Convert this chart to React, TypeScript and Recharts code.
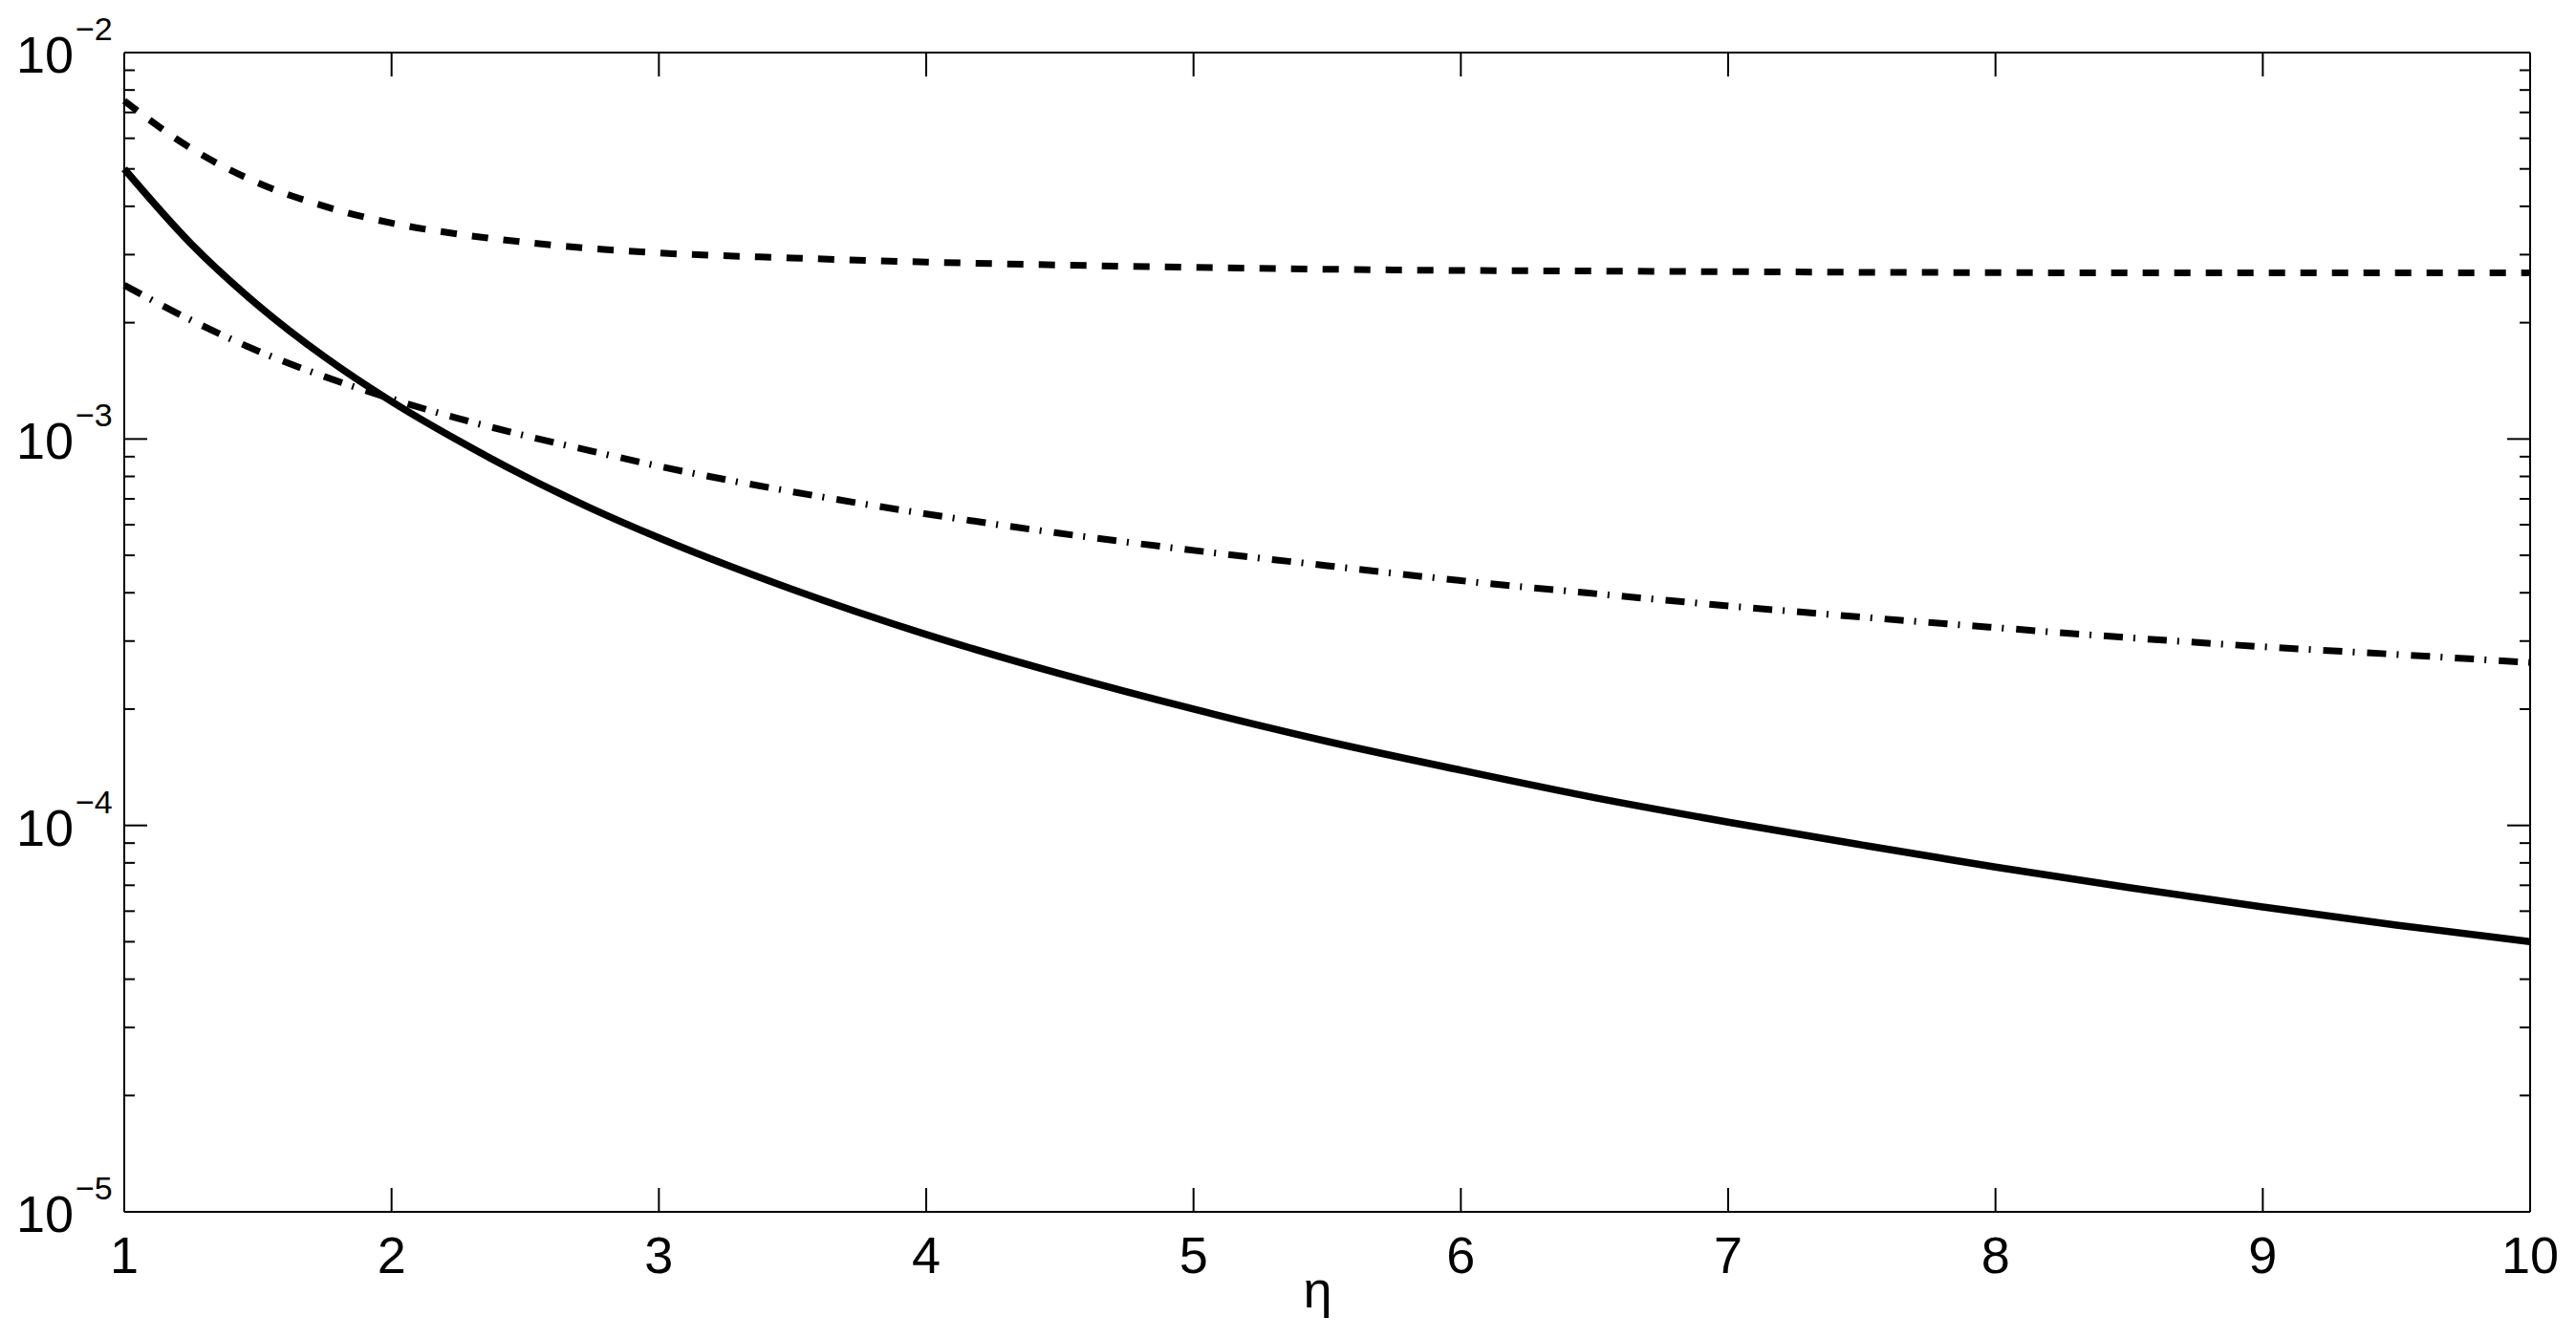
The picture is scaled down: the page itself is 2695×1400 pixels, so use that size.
import React from 'react';
import { LineChart, Line, XAxis, YAxis } from 'recharts';

const etaValues = [1, 1.25, 1.5, 1.75, 2, 2.25, 2.5, 2.75, 3, 3.5, 4, 4.5, 5, 5.5, 6, 6.5, 7, 7.5, 8, 8.5, 9, 9.5, 10];

const solidSeries = [5.0e-3, 3.2e-3, 2.22e-3, 1.63e-3, 1.25e-3, 9.9e-4, 8.0e-4, 6.6e-4, 5.55e-4, 4.08e-4, 3.12e-4, 2.47e-4, 2.0e-4, 1.65e-4, 1.39e-4, 1.18e-4, 1.02e-4, 8.9e-5, 7.8e-5, 6.9e-5, 6.15e-5, 5.52e-5, 5.0e-5];

const dashDotSeries = [2.5e-3, 2.03e-3, 1.69e-3, 1.45e-3, 1.27e-3, 1.13e-3, 1.02e-3, 9.3e-4, 8.5e-4, 7.3e-4, 6.4e-4, 5.7e-4, 5.15e-4, 4.7e-4, 4.3e-4, 3.98e-4, 3.7e-4, 3.46e-4, 3.25e-4, 3.06e-4, 2.9e-4, 2.77e-4, 2.64e-4];

const dashedSeries = [7.5e-3, 5.65e-3, 4.6e-3, 4.0e-3, 3.62e-3, 3.39e-3, 3.23e-3, 3.11e-3, 3.03e-3, 2.94e-3, 2.87e-3, 2.82e-3, 2.78e-3, 2.75e-3, 2.73e-3, 2.72e-3, 2.71e-3, 2.70e-3, 2.695e-3, 2.69e-3, 2.69e-3, 2.69e-3, 2.69e-3];

const xTicks = [1, 2, 3, 4, 5, 6, 7, 8, 9, 10];

const yTicks = [
  1e-5, 2e-5, 3e-5, 4e-5, 5e-5, 6e-5, 7e-5, 8e-5, 9e-5,
  1e-4, 2e-4, 3e-4, 4e-4, 5e-4, 6e-4, 7e-4, 8e-4, 9e-4,
  1e-3, 2e-3, 3e-3, 4e-3, 5e-3, 6e-3, 7e-3, 8e-3, 9e-3,
  1e-2,
];

const xLabel = 'η';

const data = etaValues.map((eta, i) => ({
  eta,
  solid: solidSeries[i],
  dashed: dashedSeries[i],
  dashDot: dashDotSeries[i],
}));

const FONT = 'Liberation Sans, Arial, Helvetica, sans-serif';
const MAJOR = 24;
const MINOR = 11;

const isDecade = (v: number) => {
  const l = Math.log10(v);
  return Math.abs(l - Math.round(l)) < 1e-6;
};

const LeftTick = (props: any) => {
  const { x, y, payload } = props;
  const v = payload.value as number;
  const major = isDecade(v);
  const exp = Math.round(Math.log10(v));
  return (
    <g>
      <line x1={x} x2={x + (major ? MAJOR : MINOR)} y1={y} y2={y} stroke="#000" strokeWidth={2} />
      {major && (
        <g fontFamily={FONT} fill="#000">
          <text x={x - 53} y={y + 21} fontSize={54} textAnchor="end">10</text>
          <text x={x - 51} y={y - 13} fontSize={34} textAnchor="start">{'\u2212' + Math.abs(exp)}</text>
        </g>
      )}
    </g>
  );
};

const RightTick = (props: any) => {
  const { x, y, payload } = props;
  const v = payload.value as number;
  const major = isDecade(v);
  return <line x1={x} x2={x - (major ? MAJOR : MINOR)} y1={y} y2={y} stroke="#000" strokeWidth={2} />;
};

const BottomTick = (props: any) => {
  const { x, y, payload } = props;
  return (
    <g>
      <line x1={x} x2={x} y1={y} y2={y - 25} stroke="#000" strokeWidth={2} />
      <text x={x} y={y + 64} fontSize={54} fontFamily={FONT} textAnchor="middle" fill="#000">
        {payload.value}
      </text>
    </g>
  );
};

const TopTick = (props: any) => {
  const { x, y } = props;
  return <line x1={x} x2={x} y1={y} y2={y + 25} stroke="#000" strokeWidth={2} />;
};

const XLabel = (props: any) => {
  const vb = props.viewBox || {};
  return (
    <text
      x={vb.x + vb.width / 2 - 10}
      y={vb.y + 100}
      fontSize={54}
      fontFamily={FONT}
      textAnchor="middle"
      fill="#000"
    >
      {xLabel}
    </text>
  );
};

export default function App() {
  return (
    <div style={{ width: 2687, height: 1392, background: '#fff' }}>
      <LineChart width={2687} height={1392} data={data} margin={{ top: 0, right: 0, bottom: 0, left: 0 }}>
        <XAxis
          xAxisId="bottom"
          dataKey="eta"
          type="number"
          domain={[1, 10]}
          ticks={xTicks}
          interval={0}
          height={132}
          tickSize={0}
          tickMargin={0}
          tickLine={false}
          axisLine={{ stroke: '#000', strokeWidth: 2 }}
          tick={<BottomTick />}
          label={<XLabel />}
        />
        <XAxis
          xAxisId="top"
          orientation="top"
          dataKey="eta"
          type="number"
          domain={[1, 10]}
          ticks={xTicks}
          interval={0}
          height={47}
          tickSize={0}
          tickMargin={0}
          tickLine={false}
          axisLine={{ stroke: '#000', strokeWidth: 2 }}
          tick={<TopTick />}
        />
        <YAxis
          yAxisId="left"
          scale="log"
          type="number"
          domain={[1e-5, 1e-2]}
          allowDataOverflow
          ticks={yTicks}
          interval={0}
          width={122}
          tickSize={0}
          tickMargin={0}
          tickLine={false}
          axisLine={{ stroke: '#000', strokeWidth: 2 }}
          tick={<LeftTick />}
        />
        <YAxis
          yAxisId="right"
          orientation="right"
          scale="log"
          type="number"
          domain={[1e-5, 1e-2]}
          allowDataOverflow
          ticks={yTicks}
          interval={0}
          width={48}
          tickSize={0}
          tickMargin={0}
          tickLine={false}
          axisLine={{ stroke: '#000', strokeWidth: 2 }}
          tick={<RightTick />}
        />
        <Line
          xAxisId="bottom"
          yAxisId="left"
          dataKey="dashed"
          type="monotone"
          stroke="#000"
          strokeWidth={7}
          strokeDasharray="17 16"
          dot={false}
          activeDot={false}
          isAnimationActive={false}
        />
        <Line
          xAxisId="bottom"
          yAxisId="left"
          dataKey="dashDot"
          type="monotone"
          stroke="#000"
          strokeWidth={7}
          strokeDasharray="20 11 2 13"
          dot={false}
          activeDot={false}
          isAnimationActive={false}
        />
        <Line
          xAxisId="bottom"
          yAxisId="left"
          dataKey="solid"
          type="monotone"
          stroke="#000"
          strokeWidth={7.5}
          dot={false}
          activeDot={false}
          isAnimationActive={false}
        />
        <Line
          xAxisId="top"
          yAxisId="right"
          dataKey="solid"
          type="monotone"
          stroke="none"
          strokeWidth={0}
          dot={false}
          activeDot={false}
          isAnimationActive={false}
          legendType="none"
        />
      </LineChart>
    </div>
  );
}
